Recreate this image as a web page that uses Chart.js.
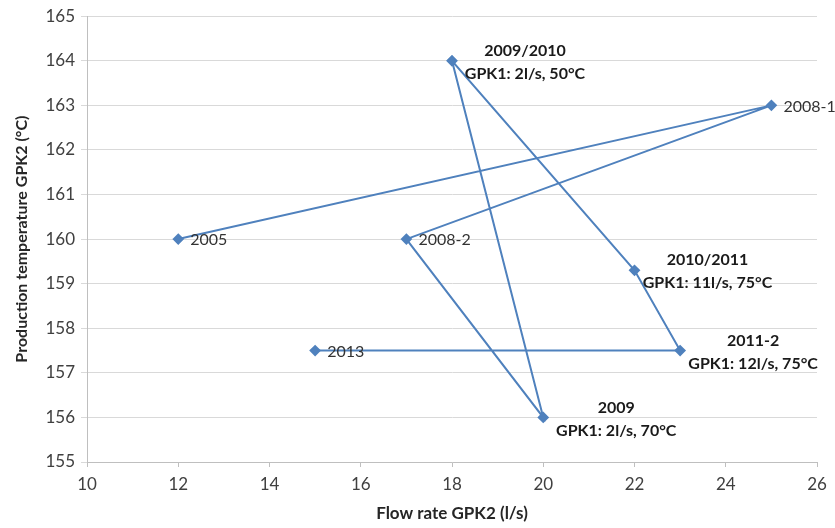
<!DOCTYPE html>
<html>
<head>
<meta charset="utf-8">
<script src="https://cdn.jsdelivr.net/npm/chart.js@4"></script>
<style>
  html, body { margin: 0; padding: 0; background: #fff; }
  #wrap { width: 835px; height: 528px; }
</style>
</head>
<body>
<div id="wrap"><canvas id="chart" width="835" height="528"></canvas></div>
<script>
// values, in the order the line joins them
const flowRate = [12, 25, 17, 20, 18, 22, 23, 15];
const temperature = [160, 163, 160, 156, 164, 159.3, 157.5, 157.5];
const pointNames = ["2005", "2008-1", "2008-2", "2009", "2009/2010", "2010/2011", "2011-2", "2013"];
const pointNotes = ["", "", "", "GPK1: 2l/s, 70°C", "GPK1: 2l/s, 50°C", "GPK1: 11l/s, 75°C", "GPK1: 12l/s, 75°C", ""];
const xTicks = [10, 12, 14, 16, 18, 20, 22, 24, 26];
const yTicks = [155, 156, 157, 158, 159, 160, 161, 162, 163, 164, 165];

const FONT = "Lato, 'Open Sans', sans-serif";
const BLUE = "rgb(79, 129, 189)";

const pointLabels = {
  id: "pointLabels",
  afterDatasetsDraw(chart) {
    const ctx = chart.ctx;
    const meta = chart.getDatasetMeta(0);
    ctx.save();
    meta.data.forEach((pt, i) => {
      ctx.textBaseline = "middle";
      if (pointNotes[i]) {
        // two-line bold note, set down and to the right of the point
        const cx = pt.x + 73;
        ctx.fillStyle = "#1a1a1a";
        ctx.font = "bold 16px " + FONT;
        ctx.textAlign = "center";
        ctx.fillText(pointNames[i], cx, pt.y - 10);
        ctx.fillText(pointNotes[i], cx, pt.y + 13);
      } else {
        ctx.fillStyle = "#333";
        ctx.font = "16px " + FONT;
        ctx.textAlign = "left";
        ctx.fillText(pointNames[i], pt.x + 12, pt.y + 1);
      }
    });
    ctx.restore();
  }
};

new Chart(document.getElementById("chart"), {
  type: "scatter",
  data: {
    datasets: [
      {
        data: flowRate.map((x, i) => ({ x, y: temperature[i] })),
        showLine: true,
        borderColor: BLUE,
        backgroundColor: BLUE,
        borderWidth: 2,
        pointStyle: "rectRot",
        pointRadius: 4.5,
        pointHoverRadius: 4.5,
        tension: 0,
      },
    ],
  },
  options: {
    responsive: false,
    animation: false,
    layout: { padding: { top: 16, right: 18, left: 0, bottom: 0 } },
    plugins: { legend: { display: false }, tooltip: { enabled: false } },
    scales: {
      x: {
        type: "linear",
        min: xTicks[0],
        max: xTicks[xTicks.length - 1],
        afterBuildTicks: (s) => { s.ticks = xTicks.map((v) => ({ value: v })); },
        afterFit: (s) => { s.height = 66; },
        grid: { drawOnChartArea: false, color: "#bfbfbf", tickLength: 5 },
        border: { color: "#bfbfbf" },
        ticks: { color: "#404040", font: { family: FONT, size: 17 }, padding: 7 },
        title: {
          display: true,
          text: "Flow rate GPK2 (l/s)",
          color: "#262626",
          font: { family: FONT, size: 17, weight: "bold" },
          padding: { top: 4 },
        },
      },
      y: {
        type: "linear",
        min: yTicks[0],
        max: yTicks[yTicks.length - 1],
        afterBuildTicks: (s) => { s.ticks = yTicks.map((v) => ({ value: v })); },
        afterFit: (s) => { s.width = 87; },
        grid: { color: "#d9d9d9", tickLength: 6 },
        border: { color: "#bfbfbf" },
        ticks: { color: "#404040", font: { family: FONT, size: 17 }, padding: 6 },
        title: {
          display: true,
          text: "Production temperature GPK2 (°C)",
          color: "#262626",
          font: { family: FONT, size: 16, weight: "bold" },
          padding: { top: 12, bottom: 4 },
        },
      },
    },
  },
  plugins: [pointLabels],
});
</script>
</body>
</html>
